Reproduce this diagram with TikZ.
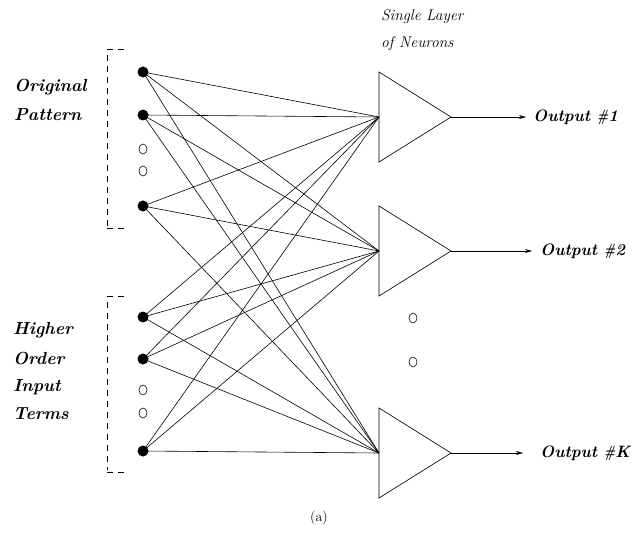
\documentclass[tikz,border=0pt]{standalone}
\usetikzlibrary{arrows.meta,shapes.geometric}
\newcommand{\narrowhash}{\scalebox{0.72}[1]{\#}}
\begin{document}
\begin{tikzpicture}[x=1pt,y=-1pt,
  dot/.style={circle,fill=black,inner sep=0pt,minimum size=11pt},
  hollow/.style={ellipse,draw,line width=0.6pt,inner sep=0pt,minimum width=8pt,minimum height=10pt},
  wire/.style={line width=0.6pt},
  neuron/.style={draw,line width=0.6pt},
  bracketline/.style={draw,line width=0.8pt,dash pattern=on 6pt off 5pt},
  outarrow/.style={line width=0.6pt,-{Stealth[length=7pt,width=4pt]}},
  lbl/.style={font=\fontsize{17.5}{20}\selectfont\bfseries\itshape,anchor=west,inner sep=0pt},
  outlbl/.style={font=\fontsize{16.5}{19}\selectfont\bfseries\itshape,anchor=west,inner sep=0pt},
  ttl/.style={font=\fontsize{15.5}{18}\selectfont\itshape,anchor=west,inner sep=0pt}]
\useasboundingbox (0,0) rectangle (637,537);
% inputs
\node[dot] (i1) at (143,72) {};
\node[dot] (i2) at (143,115) {};
\node[dot] (i3) at (143,206) {};
\node[dot] (i4) at (143,317) {};
\node[dot] (i5) at (143,359) {};
\node[dot] (i6) at (143,451) {};
\node[hollow] (h1) at (143,149) {};
\node[hollow] (h2) at (143,171) {};
\node[hollow] (h3) at (143,390) {};
\node[hollow] (h4) at (143,413) {};
% brackets
\path[bracketline] (107,49) -- (124,49);
\path[bracketline] (107,55) -- (107,226);
\path[bracketline] (107,228) -- (124,228);
\path[bracketline] (107,296) -- (124,296);
\path[bracketline] (107,302) -- (107,470);
\path[bracketline] (107,472) -- (124,472);
% neurons
\coordinate (n1in) at (379,117);
\coordinate (n1out) at (451,117);
\coordinate (n2in) at (379,251);
\coordinate (n2out) at (451,251);
\coordinate (n3in) at (379,453);
\coordinate (n3out) at (451,453);
\path[neuron] (379,72) -- (n1out) -- (379,162) -- cycle;
\path[neuron] (379,206) -- (n2out) -- (379,296) -- cycle;
\path[neuron] (379,408) -- (n3out) -- (379,498) -- cycle;
\node[hollow] (m1) at (413,318) {};
\node[hollow] (m2) at (413,362) {};
% wires
\foreach \i in {i1,i2,i3,i4,i5,i6}{
  \foreach \n in {n1in,n2in,n3in}{
    \draw[wire] (\i.center) -- (\n);
  }
}
% outputs
\node[outlbl] (o1) at (533,117) {Output \narrowhash1};
\node[outlbl] (o2) at (540,251) {Output \narrowhash2};
\node[outlbl] (o3) at (540,453) {Output \narrowhash K};
\draw[outarrow] (n1out) -- (526,117);
\draw[outarrow] (n2out) -- (532,251);
\draw[outarrow] (n3out) -- (523,453);
% labels
\node[lbl] (t1) at (14,87) {Original};
\node[lbl] (t2) at (14,115) {Pattern};
\node[lbl] (t3) at (13,330) {Higher};
\node[lbl] (t4) at (13,358) {Order};
\node[lbl] (t5) at (13,387) {Input};
\node[lbl] (t6) at (13,414) {Terms};
\node[ttl] (s1) at (381,17) {Single Layer};
\node[ttl] (s2) at (381,44) {of Neurons};
\node[font=\fontsize{14}{16}\selectfont,inner sep=0pt] (cap) at (319,518) {(a)};
\end{tikzpicture}
\end{document}
